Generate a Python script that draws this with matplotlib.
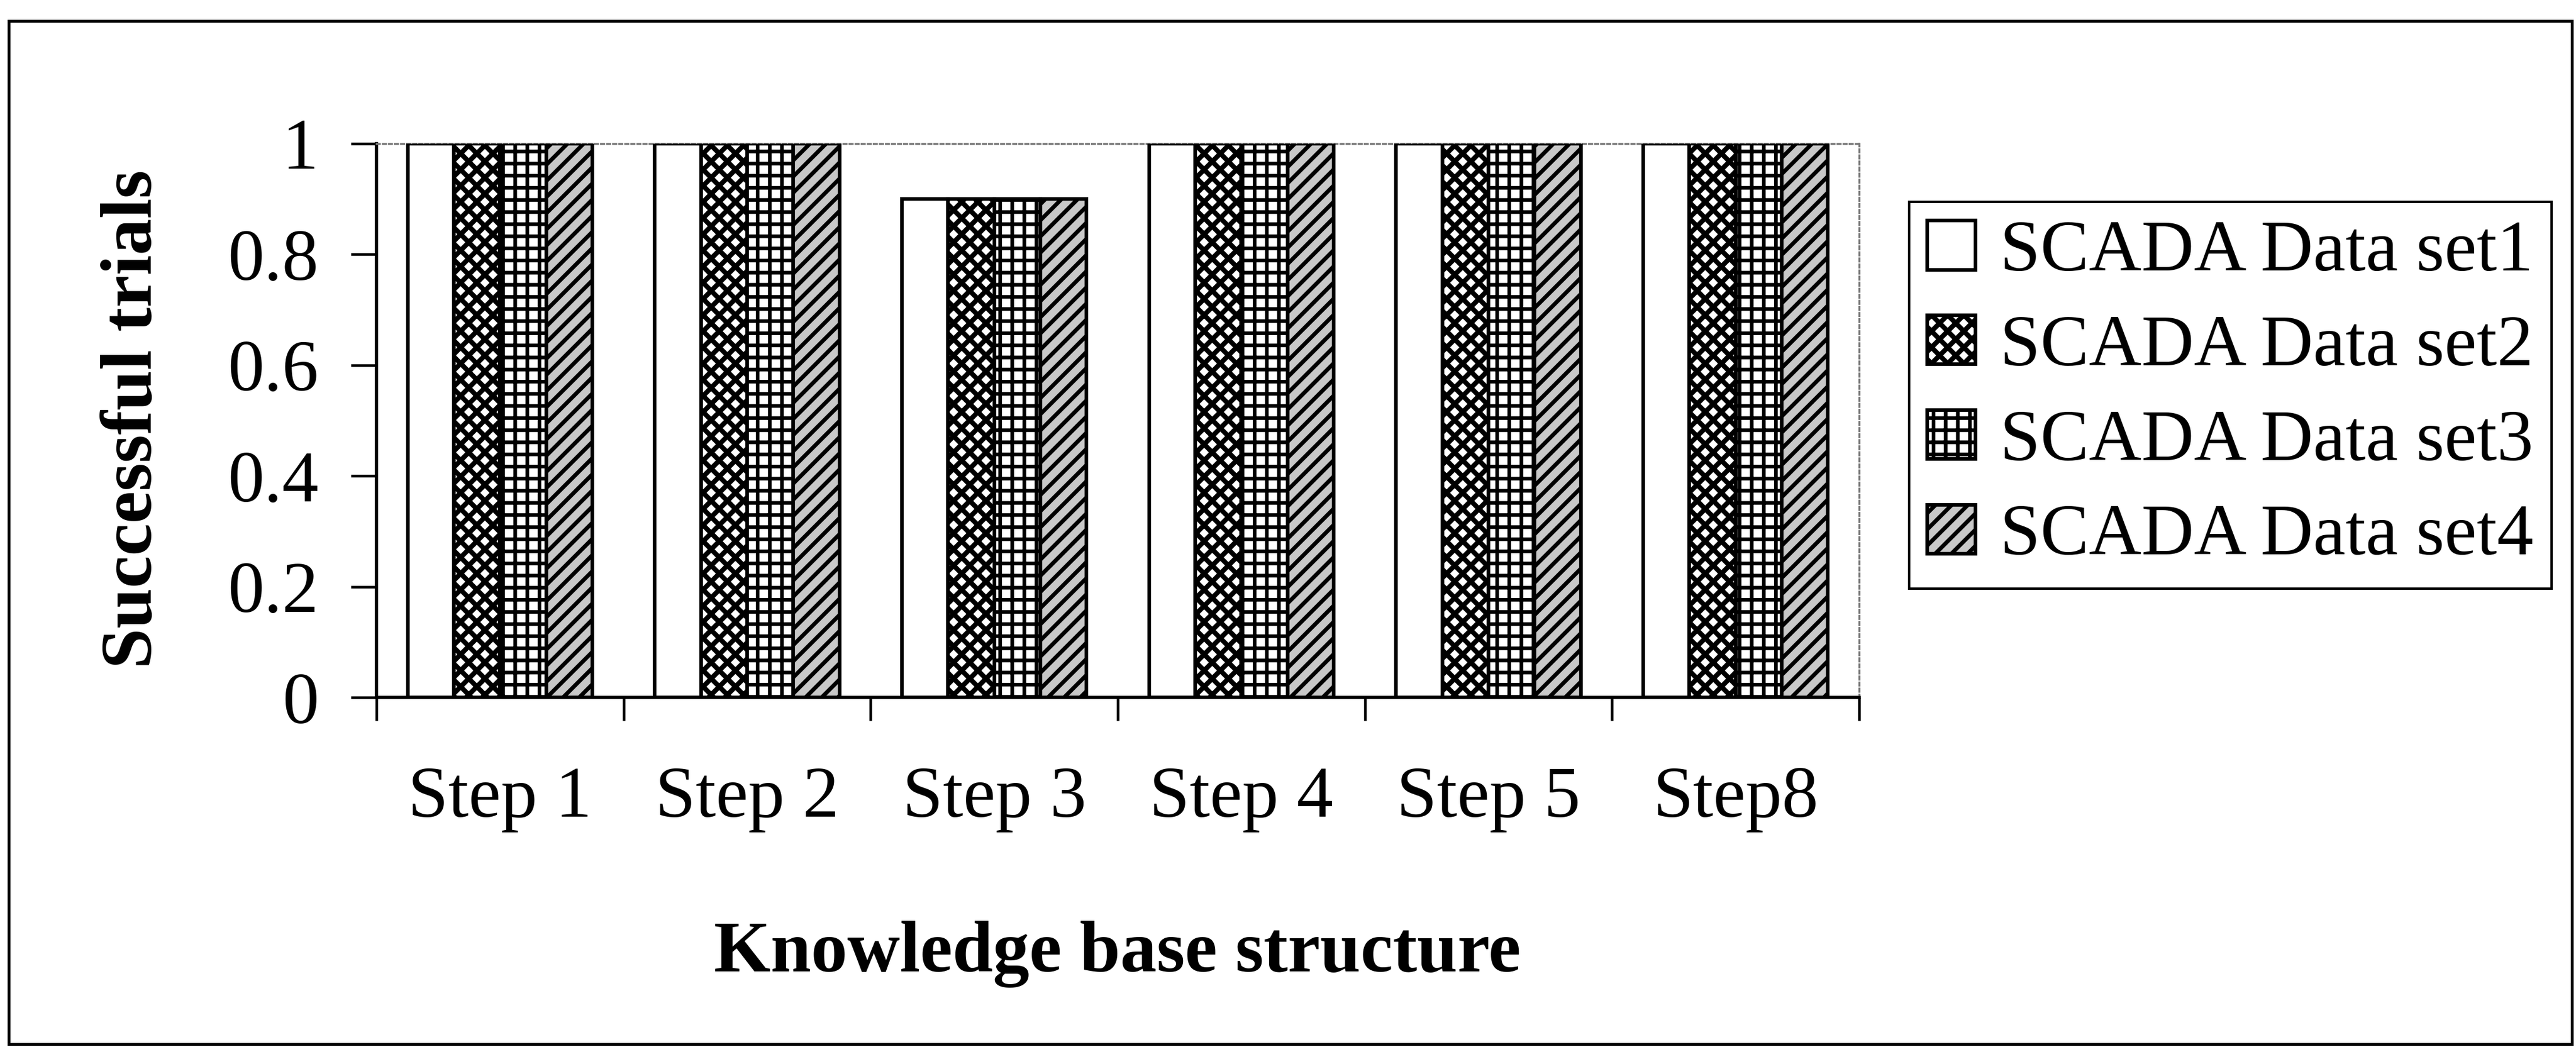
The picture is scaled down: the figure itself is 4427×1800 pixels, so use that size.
"""Grouped bar chart: successful trials per knowledge-base step for four SCADA data sets."""

import matplotlib

matplotlib.use("Agg")
import matplotlib.pyplot as plt
import numpy as np
from matplotlib.legend_handler import HandlerPatch
from matplotlib.patches import Rectangle

steps = ["Step 1", "Step 2", "Step 3", "Step 4", "Step 5", "Step8"]
series_names = ["SCADA Data set1", "SCADA Data set2", "SCADA Data set3", "SCADA Data set4"]
set1 = [1.0, 1.0, 0.9, 1.0, 1.0, 1.0]
set2 = [1.0, 1.0, 0.9, 1.0, 1.0, 1.0]
set3 = [1.0, 1.0, 0.9, 1.0, 1.0, 1.0]
set4 = [1.0, 1.0, 0.9, 1.0, 1.0, 1.0]
y_ticks = [0, 0.2, 0.4, 0.6, 0.8, 1]
y_tick_labels = ["0", "0.2", "0.4", "0.6", "0.8", "1"]

hatches = [None, "xxx", "++", "///"]
hatch_lw = [1.0, 2.4, 1.8, 2.0]
faces = ["white", "white", "white", "#c8c8c8"]

W, H, DPI = 4427, 1800, 250
FS = 36

plt.rcParams["font.family"] = ["Liberation Serif", "DejaVu Serif"]

fig = plt.figure(figsize=(W / DPI, H / DPI), dpi=DPI)
ax = fig.add_axes([647 / W, 1 - 1199 / H, (3195 - 647) / W, (1199 - 247) / H])

x = np.arange(len(steps))
width = 0.187
keys = []
for i, (vals, name) in enumerate(zip([set1, set2, set3, set4], series_names)):
    # hatch line width is picked up when the patches are created
    with plt.rc_context({"hatch.linewidth": hatch_lw[i]}):
        bc = ax.bar(x + (i - 1.5) * width, vals, width, label=name, facecolor=faces[i],
                    edgecolor="black", linewidth=1.8, hatch=hatches[i], zorder=3)
    keys.append(bc.patches[0])

ax.set_xlim(-0.5, len(steps) - 0.5)
ax.set_ylim(0, 1)

# category boundaries get the tick marks, labels sit between them
ax.set_xticks(np.arange(len(steps) + 1) - 0.5)
ax.set_xticklabels([])
ax.set_xticks(x, minor=True)
ax.set_xticklabels(steps, minor=True, fontsize=FS)
ax.tick_params(axis="x", which="major", direction="out", length=11.5, width=1.3)
ax.tick_params(axis="x", which="minor", length=0, pad=34)

ax.set_yticks(y_ticks)
ax.set_yticklabels(y_tick_labels, fontsize=FS)
ax.tick_params(axis="y", direction="out", length=12.7, width=1.3, pad=16)

for side in ("left", "bottom"):
    ax.spines[side].set_linewidth(1.6)
for side in ("top", "right"):
    ax.spines[side].set_linestyle((0, (1.5, 1.5)))
    ax.spines[side].set_color("#777777")
    ax.spines[side].set_linewidth(1.0)

fig.text(230 / W, 1 - 720 / H, "Successful trials", rotation=90, ha="center", va="center",
         fontsize=FS, fontweight="bold")
fig.text(1920 / W, 1 - 1670 / H, "Knowledge base structure", ha="center", va="baseline",
         fontsize=FS, fontweight="bold")


def square_key(lw):
    def make(legend, orig_handle, xdescent, ydescent, width, height, fontsize):
        with plt.rc_context({"hatch.linewidth": lw}):
            return Rectangle((-xdescent, -ydescent), width, height)
    return HandlerPatch(patch_func=make)


handler_map = {k: square_key(hatch_lw[i]) for i, k in enumerate(keys)}
leg = fig.legend(handles=keys, labels=series_names, handler_map=handler_map,
                 loc="upper left", bbox_to_anchor=(3281 / W, 1 - 347 / H), fontsize=FS,
                 frameon=True, fancybox=False, framealpha=1, edgecolor="black",
                 handlelength=0.66, handleheight=0.66, handletextpad=0.34,
                 labelspacing=0.39, borderpad=0.25, borderaxespad=0)
leg.get_frame().set_linewidth(1.2)

# outer chart border
fig.patches.append(Rectangle((15 / W, 1 - 1795 / H), (4420 - 15) / W, (1795 - 36) / H,
                             transform=fig.transFigure, fill=False, edgecolor="black",
                             linewidth=1.4))

fig.savefig("out.png", dpi=DPI)
